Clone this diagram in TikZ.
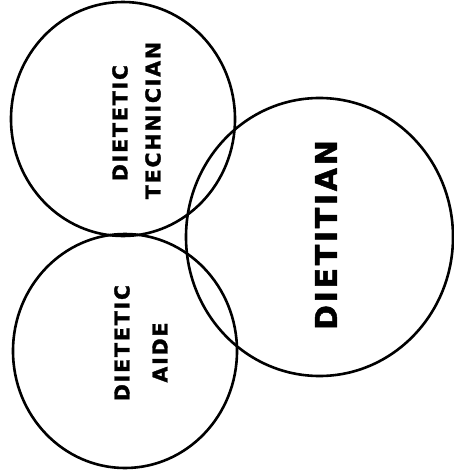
\documentclass[tikz,border=0pt]{standalone}
\usepackage{fontspec}
\setmainfont{DejaVu Sans}
\newfontfamily\lblfont[LetterSpace=9,BoldFeatures={FakeBold=1.6}]{DejaVu Sans}
\usetikzlibrary{shapes.geometric}
\begin{document}
\begin{tikzpicture}[x=1pt,y=-1pt,
  ring/.style={draw=black, line width=2.6pt, ellipse, inner sep=0pt},
  smalllbl/.style={rotate=90, inner sep=0pt, font=\lblfont\bfseries\fontsize{20.5}{24}\selectfont},
  biglbl/.style={rotate=90, inner sep=0pt, font=\lblfont\bfseries\fontsize{30}{36}\selectfont}]
\useasboundingbox (0,0) rectangle (454,471);
\node[ring, minimum width=224pt, minimum height=234pt] (tech) at (123,119) {};
\node[ring, minimum width=224pt, minimum height=234pt] (aide) at (125,351) {};
\node[ring, minimum width=267pt, minimum height=278pt] (diet) at (319.5,237) {};
\node[smalllbl] (t1) at (120,123) {DIETETIC};
\node[smalllbl] (t2) at (153,120.5) {TECHNICIAN};
\node[smalllbl] (a1) at (122,343) {DIETETIC};
\node[smalllbl] (a2) at (160,352.5) {AIDE};
\node[biglbl] (d1) at (326,235) {DIETITIAN};
\end{tikzpicture}
\end{document}
